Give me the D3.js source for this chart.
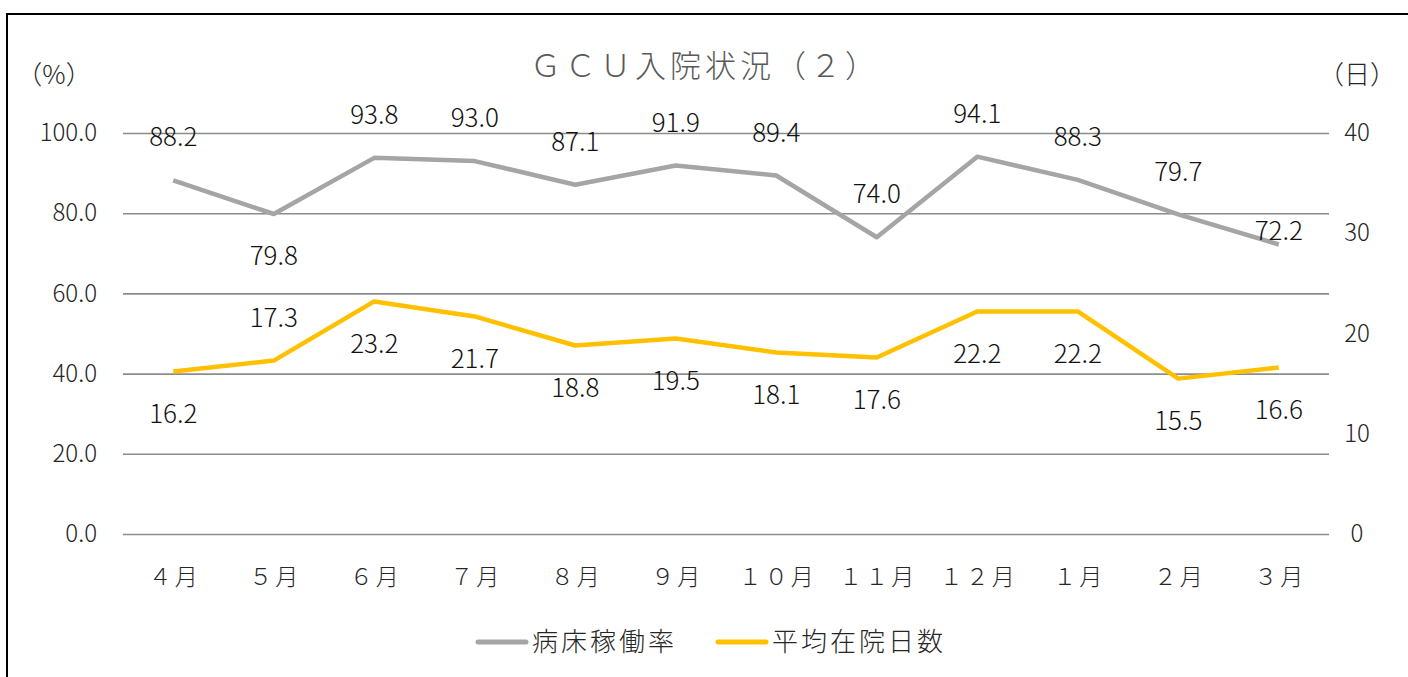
<!DOCTYPE html>
<html lang="ja">
<head>
  <meta charset="UTF-8">
  <title>GCU入院状況（2）</title>
  <script src="https://d3js.org/d3.v7.min.js"></script>
  <style>
    body { margin: 0; background: #fff; }
    svg text { font-family: "Noto Sans CJK JP", "Noto Sans", sans-serif; font-weight: 300; }
    .grid line { stroke: #8c8c8c; stroke-width: 1.6px; }
    .grid .domain { display: none; }
    .tick text { font-size: 24px; fill: #262626; }
    .xaxis .tick text { font-size: 23px; letter-spacing: 3px; }
    .lbl { font-size: 26px; fill: #111; text-anchor: middle; }
  </style>
</head>
<body>
  <svg width="1408" height="677"></svg>
  <script>
    // data
    const months = ["４月", "５月", "６月", "７月", "８月", "９月", "１０月", "１１月", "１２月", "１月", "２月", "３月"];
    const occupancy = [88.2, 79.8, 93.8, 93.0, 87.1, 91.9, 89.4, 74.0, 94.1, 88.3, 79.7, 72.2];
    const stayDays = [16.2, 17.3, 23.2, 21.7, 18.8, 19.5, 18.1, 17.6, 22.2, 22.2, 15.5, 16.6];
    const leftTicks = [0, 20, 40, 60, 80, 100];
    const rightTicks = [0, 10, 20, 30, 40];
    // where each value label sits: t = above, b = below, n = just above
    const occLabelSide = ["t", "b", "t", "t", "t", "t", "t", "t", "t", "t", "t", "n"];
    const stayLabelSide = ["b", "t", "b", "b", "b", "b", "b", "b", "b", "b", "b", "b"];

    const svg = d3.select("svg");
    const margin = { left: 123, right: 79, top: 133, bottom: 143 };
    const W = 1408 - margin.left - margin.right;
    const H = 677 - margin.top - margin.bottom;

    // chart border
    svg.append("rect")
      .attr("x", 7).attr("y", 14)
      .attr("width", 1420).attr("height", 700)
      .attr("fill", "none").attr("stroke", "#000").attr("stroke-width", 2);

    const g = svg.append("g").attr("transform", `translate(${margin.left},${margin.top})`);

    const x = d3.scaleBand().domain(months).range([0, W]);
    const yL = d3.scaleLinear().domain([0, 100]).range([H, 0]);
    const yR = d3.scaleLinear().domain([0, 40]).range([H, 0]);
    const cx = d => x(d) + x.bandwidth() / 2;

    // gridlines + left axis labels
    g.append("g").attr("class", "grid")
      .call(d3.axisLeft(yL).tickValues(leftTicks).tickSize(-W).tickPadding(6).tickFormat(d3.format(".1f")))
      .call(a => a.selectAll(".tick line").attr("x1", 0))
      .call(a => a.selectAll(".tick text").attr("x", -26));

    // right axis
    g.append("g").attr("class", "grid")
      .attr("transform", `translate(${W},0)`)
      .call(d3.axisRight(yR).tickValues(rightTicks).tickSize(0))
      .call(a => a.select(".domain").remove())
      .call(a => a.selectAll(".tick text").attr("x", 28).attr("text-anchor", "middle"));

    // x axis labels
    g.append("g").attr("class", "grid xaxis")
      .attr("transform", `translate(0,${H})`)
      .call(d3.axisBottom(x).tickSize(0).tickPadding(35))
      .call(a => a.select(".domain").remove())
      .call(a => a.selectAll(".tick text").attr("dx", 1.5));

    const occLine = d3.line().x((d, i) => cx(months[i])).y(d => yL(d));
    const stayLine = d3.line().x((d, i) => cx(months[i])).y(d => yR(d));

    g.append("path").datum(occupancy)
      .attr("d", occLine)
      .attr("fill", "none").attr("stroke", "#a5a5a5")
      .attr("stroke-width", 4.5).attr("stroke-linejoin", "round");

    g.append("path").datum(stayDays)
      .attr("d", stayLine)
      .attr("fill", "none").attr("stroke", "#ffc000")
      .attr("stroke-width", 4.5).attr("stroke-linejoin", "round");

    const offset = { t: -43, b: 42, n: -14 };

    g.selectAll(".occ-lbl").data(occupancy).join("text")
      .attr("class", "lbl")
      .attr("x", (d, i) => cx(months[i]))
      .attr("y", (d, i) => yL(d) + offset[occLabelSide[i]])
      .attr("dy", "0.35em")
      .text(d => d.toFixed(1));

    g.selectAll(".stay-lbl").data(stayDays).join("text")
      .attr("class", "lbl")
      .attr("x", (d, i) => cx(months[i]))
      .attr("y", (d, i) => yR(d) + offset[stayLabelSide[i]])
      .attr("dy", "0.35em")
      .text(d => d.toFixed(1));

    // title and unit labels
    svg.append("text")
      .attr("x", 705).attr("y", 66).attr("dy", "0.35em")
      .attr("text-anchor", "middle")
      .style("font-size", "31px").style("letter-spacing", "4px").style("fill", "#595959")
      .text("ＧＣＵ入院状況（２）");

    svg.append("text")
      .attr("x", 54).attr("y", 75).attr("dy", "0.35em")
      .attr("text-anchor", "middle")
      .style("font-size", "26px").style("fill", "#262626")
      .text("（%）");

    svg.append("text")
      .attr("x", 1357).attr("y", 75).attr("dy", "0.35em")
      .attr("text-anchor", "middle")
      .style("font-size", "26px").style("fill", "#262626")
      .text("（日）");

    // legend
    const legend = [
      { name: "病床稼働率", color: "#a5a5a5", x: 478 },
      { name: "平均在院日数", color: "#ffc000", x: 718 }
    ];
    const lg = svg.selectAll(".legend").data(legend).join("g")
      .attr("transform", d => `translate(${d.x},642)`);
    lg.append("line")
      .attr("x1", 0).attr("x2", 48)
      .attr("stroke", d => d.color).attr("stroke-width", 5).attr("stroke-linecap", "round");
    lg.append("text")
      .attr("x", 54).attr("dy", "0.35em")
      .style("font-size", "26px").style("letter-spacing", "3px").style("fill", "#262626")
      .text(d => d.name);
  </script>
</body>
</html>
